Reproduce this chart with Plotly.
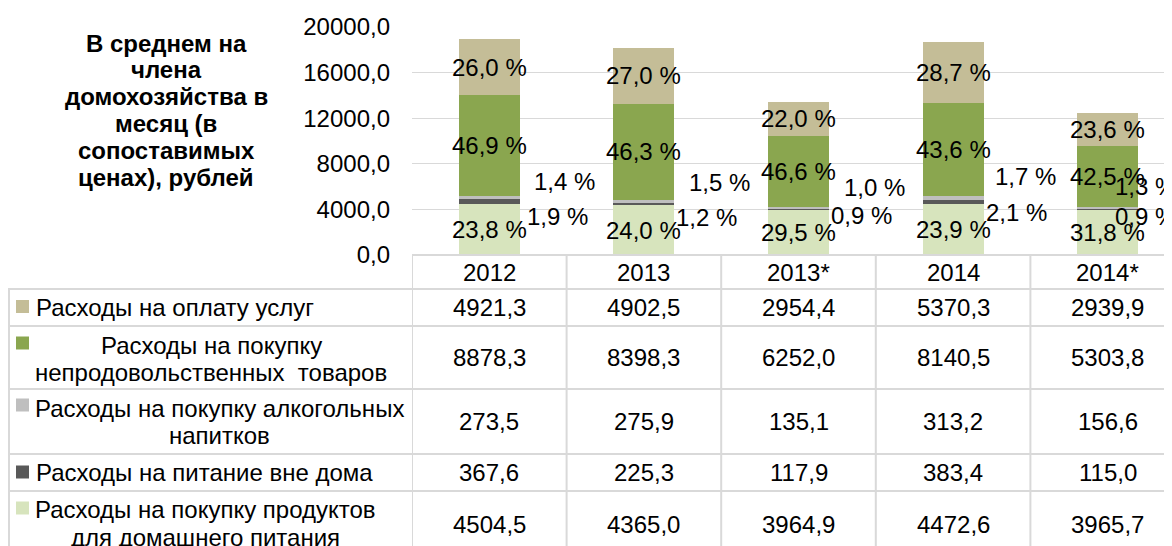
import plotly.graph_objects as go

# ---------------- data ----------------
years = ["2012", "2013", "2013*", "2014", "2014*"]
services = [4921.3, 4902.5, 2954.4, 5370.3, 2939.9]
nonfood = [8878.3, 8398.3, 6252.0, 8140.5, 5303.8]
alcohol = [273.5, 275.9, 135.1, 313.2, 156.6]
eating_out = [367.6, 225.3, 117.9, 383.4, 115.0]
food = [4504.5, 4365.0, 3964.9, 4472.6, 3965.7]

pct_services = ["26,0 %", "27,0 %", "22,0 %", "28,7 %", "23,6 %"]
pct_nonfood = ["46,9 %", "46,3 %", "46,6 %", "43,6 %", "42,5 %"]
pct_alcohol = ["1,4 %", "1,5 %", "1,0 %", "1,7 %", "1,3 %"]
pct_eating = ["1,9 %", "1,2 %", "0,9 %", "2,1 %", "0,9 %"]
pct_food = ["23,8 %", "24,0 %", "29,5 %", "23,9 %", "31,8 %"]

row_labels = [
    ["Расходы на оплату услуг"],
    ["Расходы на покупку", "непродовольственных  товаров"],
    ["Расходы на покупку алкогольных", "напитков"],
    ["Расходы на питание вне дома"],
    ["Расходы на покупку продуктов", "для домашнего питания"],
]
title_lines = ["В среднем на", "члена", "домохозяйства в", "месяц (в",
               "сопоставимых", "ценах), рублей"]

# ---------------- style ----------------
FONT = "Liberation Sans, Arial, sans-serif"
FS = 24
C_SERV = "#c4bd97"
C_NONF = "#8aa64f"
C_ALC = "#bfbfbf"
C_EAT = "#595959"
C_FOOD = "#d7e4bd"
GRID = "#d9d9d9"

OFF = 8                      # page body margin of the html page
WIN_W, WIN_H = 1172, 546
W, H = WIN_W - OFF, WIN_H - OFF
# plot area in window pixels
PL, PT, PB_PX = 412, 27, 255
COLW = 154.6
xr_max = -0.5 + (WIN_W - PL) / COLW


def py(p):  # window pixel y -> paper y
    return (PB_PX - p) / (PB_PX - PT)


def pxp(p):  # window pixel x -> paper x
    return (p - PL) / (WIN_W - PL)


fig = go.Figure()
series = [
    ("Расходы на покупку продуктов для домашнего питания", food, C_FOOD),
    ("Расходы на питание вне дома", eating_out, C_EAT),
    ("Расходы на покупку алкогольных напитков", alcohol, C_ALC),
    ("Расходы на покупку непродовольственных товаров", nonfood, C_NONF),
    ("Расходы на оплату услуг", services, C_SERV),
]
for name, vals, col in series:
    fig.add_trace(go.Bar(x=list(range(len(years))), y=vals, name=name,
                         marker=dict(color=col, line=dict(width=0)),
                         width=0.395, showlegend=False, hoverinfo="skip"))

ann = []
tfont = dict(family=FONT, size=FS, color="#000000")

# percent labels
for i in range(len(years)):
    c_food = food[i] / 2
    base_nf = food[i] + eating_out[i] + alcohol[i]
    c_nf = base_nf + nonfood[i] / 2
    c_sv = base_nf + nonfood[i] + services[i] / 2
    for yv, t in [(c_food, pct_food[i]), (c_nf, pct_nonfood[i]), (c_sv, pct_services[i])]:
        ann.append(dict(x=i, y=yv, xref="x", yref="y", text=t, showarrow=False,
                        font=tfont, xanchor="center", yanchor="middle"))

alc_xshift = [75, 76, 76, 72, 38]
alc_yshift = [16, 19, 20, 21, 21]
eat_xshift = [68, 63, 63, 63, 38]
eat_yshift = [-15, -14, -6, -11, -7]
for i in range(len(years)):
    c_eat = food[i] + eating_out[i] / 2
    c_alc = food[i] + eating_out[i] + alcohol[i] / 2
    ann.append(dict(x=i, y=c_alc, xref="x", yref="y", text=pct_alcohol[i],
                    showarrow=False, font=tfont, xanchor="center", yanchor="middle",
                    xshift=alc_xshift[i], yshift=alc_yshift[i]))
    ann.append(dict(x=i, y=c_eat, xref="x", yref="y", text=pct_eating[i],
                    showarrow=False, font=tfont, xanchor="center", yanchor="middle",
                    xshift=eat_xshift[i], yshift=eat_yshift[i]))

# title lines
for k, t in enumerate(title_lines):
    ann.append(dict(x=pxp(166), y=py(43 + 26.8 * k), xref="paper", yref="paper",
                    text="<b>" + t + "</b>", showarrow=False,
                    font=dict(family=FONT, size=FS, color="#000000"),
                    xanchor="center", yanchor="middle"))

# table geometry (window px)
row_bounds = [289, 326, 389, 454, 491, 560]
header_y = 272
row_val_y = [307, 357, 421, 472, 524]
row_line_y = [[307], [345, 372], [408, 435], [472], [510, 537]]
row_line_x = [[None], [211, 211], [219, 219], [None], [205, 205]]
marker_y = [306.5, 343, 405, 472, 508]
row_colors = [C_SERV, C_NONF, C_ALC, C_EAT, C_FOOD]
table_vals = [services, nonfood, alcohol, eating_out, food]

shapes = []
line = dict(color=GRID, width=2)
shapes.append(dict(type="line", xref="paper", yref="paper", x0=0, x1=1,
                   y0=py(255), y1=py(255), line=line))
for rb in row_bounds[:-1]:
    shapes.append(dict(type="line", xref="paper", yref="paper", x0=pxp(8), x1=1,
                       y0=py(rb), y1=py(rb), line=line))
shapes.append(dict(type="line", xref="paper", yref="paper", x0=pxp(9), x1=pxp(9),
                   y0=py(289), y1=py(560), line=line))
for k in range(len(years)):
    xb = k - 0.5
    shapes.append(dict(type="line", xref="x", yref="paper", x0=xb, x1=xb,
                       y0=py(255), y1=py(560), line=line))

for i, yr in enumerate(years):
    ann.append(dict(x=i, y=py(header_y), xref="x", yref="paper", text=yr,
                    showarrow=False, font=tfont, xanchor="center", yanchor="middle"))
for r, vals in enumerate(table_vals):
    for i, v in enumerate(vals):
        ann.append(dict(x=i, y=py(row_val_y[r]), xref="x", yref="paper",
                        text=f"{v:.1f}".replace(".", ","), showarrow=False,
                        font=tfont, xanchor="center", yanchor="middle"))
for r, lines in enumerate(row_labels):
    for j, t in enumerate(lines):
        cx = row_line_x[r][j]
        if cx is None:
            ann.append(dict(x=pxp(34), y=py(row_line_y[r][j]), xref="paper", yref="paper",
                            text=t, showarrow=False, font=tfont,
                            xanchor="left", yanchor="middle"))
        else:
            ann.append(dict(x=pxp(cx), y=py(row_line_y[r][j]), xref="paper", yref="paper",
                            text=t, showarrow=False, font=tfont,
                            xanchor="center", yanchor="middle"))
    my = marker_y[r]
    shapes.append(dict(type="rect", xref="paper", yref="paper",
                       x0=pxp(16), x1=pxp(29), y0=py(my - 6.5), y1=py(my + 6.5),
                       fillcolor=row_colors[r], line=dict(width=0)))

fig.update_layout(
    width=W, height=H,
    margin=dict(l=PL - OFF, r=0, t=PT - OFF, b=WIN_H - PB_PX, pad=0),
    barmode="stack",
    plot_bgcolor="white", paper_bgcolor="white",
    separators=", ",
    font=dict(family=FONT, size=FS, color="#000000"),
    xaxis=dict(range=[-0.5, xr_max], showticklabels=False, showgrid=False,
               zeroline=False, showline=False, fixedrange=True),
    yaxis=dict(range=[0, 20000], dtick=4000, tick0=0, tickformat=".1f",
               showgrid=True, gridcolor=GRID, gridwidth=1.3, zeroline=False,
               showline=False, ticks="", ticklabelstandoff=21,
               tickfont=dict(family=FONT, size=FS, color="#000000")),
    annotations=ann,
    shapes=shapes,
)

fig.write_html("out.html")
